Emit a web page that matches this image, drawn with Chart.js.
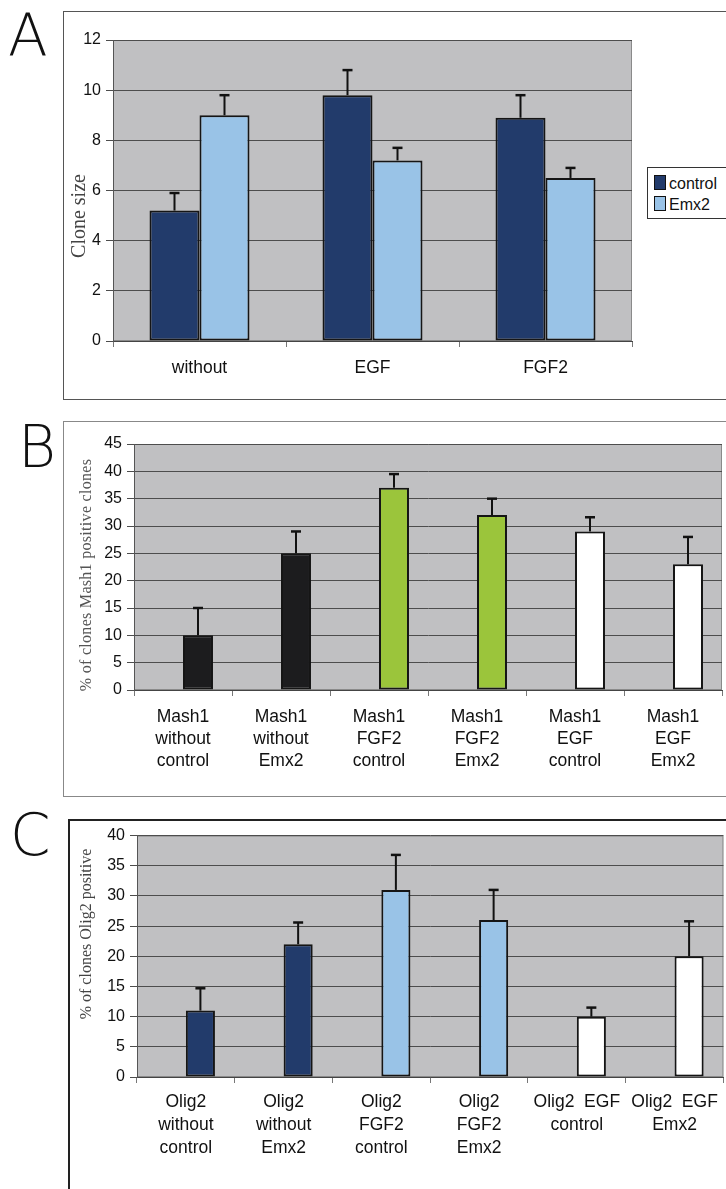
<!DOCTYPE html>
<html>
<head>
<meta charset="utf-8">
<script src="https://cdn.jsdelivr.net/npm/chart.js@4.4.1/dist/chart.umd.min.js"></script>
<style>
  html, body { margin: 0; padding: 0; background: #fff; }
  body { position: relative; width: 726px; height: 1189px; overflow: hidden; font-family: "Liberation Sans", Arial, sans-serif; }
  .box { position: absolute; box-sizing: border-box; }
  .letter { position: absolute; font-family: "DejaVu Sans", sans-serif; font-weight: 200; font-size: 58px; line-height: 58px; color: #111; }
  .ytitle { position: absolute; white-space: nowrap; font-family: "Liberation Serif", "Times New Roman", serif; color: #444; transform: translate(-50%, -50%) rotate(-90deg); }
  canvas { position: absolute; }
  #legendA { position: absolute; left: 647px; top: 167px; width: 100px; height: 52px; border: 1px solid #333; background: #fff; box-sizing: border-box; padding: 5px 0 0 6px; }
  #legendA div { font-size: 16px; line-height: 21px; color: #111; white-space: nowrap; }
  #legendA span { display: inline-block; width: 10px; height: 13px; border: 1px solid #111; margin-right: 3px; vertical-align: -1px; }
</style>
</head>
<body>

<div class="box" style="left:63px; top:11px; width:700px; height:389px; border:1px solid #555;"></div>
<div class="box" style="left:63px; top:421px; width:700px; height:376px; border:1px solid #888;"></div>
<div class="box" style="left:68px; top:819px; width:700px; height:400px; border:2px solid #222;"></div>

<div class="letter" style="left:8px; top:7px;">A</div>
<div class="letter" style="left:18px; top:418px;">B</div>
<div class="letter" style="left:10px; top:806px;">C</div>

<canvas id="chartA" width="663" height="388" style="left:63px; top:11px;"></canvas>
<canvas id="chartB" width="662" height="373" style="left:64px; top:422px;"></canvas>
<canvas id="chartC" width="656" height="368" style="left:70px; top:821px;"></canvas>

<div class="ytitle" style="left:78px; top:216px; font-size:20px;">Clone size</div>
<div class="ytitle" style="left:86px; top:575px; font-size:16px; letter-spacing:0.3px; color:#555;">% of clones Mash1 positive clones</div>
<div class="ytitle" style="left:86px; top:934px; font-size:16px;">% of clones Olig2 positive</div>

<div id="legendA"></div>

<script>
// panel A: clone size
const catsA = ["without", "EGF", "FGF2"];
const controlA = [5.2, 9.8, 8.9];
const controlErrA = [0.7, 1.0, 0.9];
const emx2A = [9.0, 7.2, 6.5];
const emx2ErrA = [0.8, 0.5, 0.4];

// panel B: Mash1 positive clones (%)
const catsB = [
  ["Mash1", "without", "control"],
  ["Mash1", "without", "Emx2"],
  ["Mash1", "FGF2", "control"],
  ["Mash1", "FGF2", "Emx2"],
  ["Mash1", "EGF", "control"],
  ["Mash1", "EGF", "Emx2"]
];
const mash1 = [10, 25, 37, 32, 29, 23];
const mash1Err = [5, 4, 2.5, 3, 2.6, 5];

// panel C: Olig2 positive clones (%)
const catsC = [
  ["Olig2", "without", "control"],
  ["Olig2", "without", "Emx2"],
  ["Olig2", "FGF2", "control"],
  ["Olig2", "FGF2", "Emx2"],
  ["Olig2  EGF", "control"],
  ["Olig2  EGF", "Emx2"]
];
const olig2 = [11, 22, 31, 26, 10, 20];
const olig2Err = [3.7, 3.6, 5.8, 5, 1.5, 5.8];

const NAVY = "#223b6b";
const SKY = "#99c3e7";
const BLACK = "#1c1c1e";
const GREEN = "#9bc53b";
const WHITE = "#ffffff";

// grey plot area behind the bars
const plotBg = {
  id: "plotBg",
  beforeDraw(chart) {
    const { ctx, chartArea: a } = chart;
    ctx.save();
    ctx.fillStyle = "#c0c0c2";
    ctx.fillRect(a.left, a.top, a.width, a.height);
    ctx.strokeStyle = "#8a8a8a";
    ctx.lineWidth = 1;
    ctx.strokeRect(a.left + 0.5, a.top + 0.5, a.width - 1, a.height - 1);
    ctx.restore();
  }
};

// plus-only error bars, read from dataset.errors
const errorBars = {
  id: "errorBars",
  afterDatasetsDraw(chart) {
    const ctx = chart.ctx;
    const yScale = chart.scales.y;
    chart.data.datasets.forEach((ds, i) => {
      if (!ds.errors) return;
      chart.getDatasetMeta(i).data.forEach((bar, j) => {
        const v = ds.data[j];
        if (v == null) return;
        const top = yScale.getPixelForValue(v + ds.errors[j]);
        ctx.save();
        ctx.strokeStyle = "#111";
        ctx.lineWidth = 2;
        ctx.beginPath();
        ctx.moveTo(bar.x, bar.y);
        ctx.lineTo(bar.x, top);
        ctx.stroke();
        ctx.lineWidth = 2.5;
        ctx.beginPath();
        ctx.moveTo(bar.x - 5, top);
        ctx.lineTo(bar.x + 5, top);
        ctx.stroke();
        ctx.restore();
      });
    });
  }
};

function makeOptions(o) {
  return {
    responsive: false,
    animation: false,
    devicePixelRatio: 1,
    layout: { padding: { left: 0, top: o.top, right: o.right, bottom: 0 } },
    plugins: { legend: { display: false }, tooltip: { enabled: false } },
    scales: {
      x: {
        afterFit: s => { s.height = o.xHeight; },
        grid: { drawOnChartArea: false, drawTicks: true, tickLength: 6, color: "#777", offset: true },
        border: { color: "#444", width: 1 },
        ticks: {
          color: "#111",
          padding: o.xPad,
          maxRotation: 0,
          autoSkip: false,
          font: { family: "Liberation Sans", size: 17.5, lineHeight: o.lineHeight }
        }
      },
      y: {
        min: 0,
        max: o.max,
        afterFit: s => { s.width = o.yWidth; },
        grid: { color: "#4d4d4d", lineWidth: 1, tickLength: 7 },
        border: { color: "#555", width: 1 },
        ticks: {
          stepSize: o.step,
          color: "#111",
          padding: 5,
          font: { family: "Liberation Sans", size: 16 }
        }
      }
    }
  };
}

function renderA() {
  const datasets = [
    { label: "control", data: controlA, errors: controlErrA, backgroundColor: NAVY },
    { label: "Emx2", data: emx2A, errors: emx2ErrA, backgroundColor: SKY }
  ];
  datasets.forEach(d => {
    d.borderColor = "#151515";
    d.borderWidth = 2;
    d.borderSkipped = false;
    d.categoryPercentage = 0.578;
    d.barPercentage = 1;
  });
  new Chart(document.getElementById("chartA"), {
    type: "bar",
    data: { labels: catsA, datasets: datasets },
    options: makeOptions({ top: 29, right: 94, xHeight: 58, xPad: 11, lineHeight: 1.2, max: 12, step: 2, yWidth: 50 }),
    plugins: [plotBg, errorBars]
  });

  // legend box next to the plot
  const legend = document.getElementById("legendA");
  datasets.forEach(d => {
    const row = document.createElement("div");
    const sw = document.createElement("span");
    sw.style.background = d.backgroundColor;
    row.appendChild(sw);
    row.appendChild(document.createTextNode(d.label));
    legend.appendChild(row);
  });
}

// B and C: one visible series per chart, the empty first series keeps the
// bars in the right half of each category
function renderSingle(id, labels, values, errors, colors, o) {
  new Chart(document.getElementById(id), {
    type: "bar",
    data: {
      labels: labels,
      datasets: [
        { label: "", data: labels.map(() => null), categoryPercentage: o.catPct, barPercentage: 1 },
        {
          label: "",
          data: values,
          errors: errors,
          backgroundColor: colors,
          borderColor: "#151515",
          borderWidth: 2,
          borderSkipped: false,
          categoryPercentage: o.catPct,
          barPercentage: 1
        }
      ]
    },
    options: makeOptions(o),
    plugins: [plotBg, errorBars]
  });
}

renderA();

renderSingle("chartB", catsB, mash1, mash1Err,
  [BLACK, BLACK, GREEN, GREEN, WHITE, WHITE],
  { top: 22, right: 4, xHeight: 105, xPad: 10, lineHeight: 1.26, max: 45, step: 5, yWidth: 70, catPct: 0.612 });

renderSingle("chartC", catsC, olig2, olig2Err,
  [NAVY, NAVY, SKY, SKY, WHITE, WHITE],
  { top: 9, right: 2, xHeight: 112, xPad: 8, lineHeight: 1.31, max: 40, step: 5, yWidth: 67, catPct: 0.595 });
</script>
</body>
</html>
